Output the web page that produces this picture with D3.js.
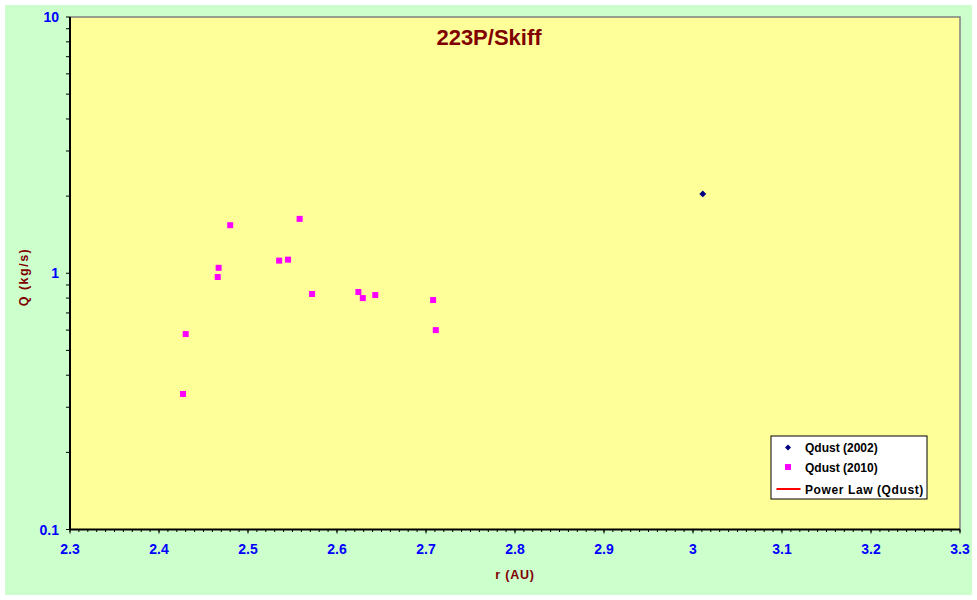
<!DOCTYPE html>
<html>
<head>
<meta charset="utf-8">
<script src="https://cdn.jsdelivr.net/npm/d3@7"></script>
<style>
  html, body { margin: 0; padding: 0; background: #ffffff; }
  svg { display: block; }
  text { font-family: "Liberation Sans", Arial, sans-serif; }
</style>
</head>
<body>
<svg id="chart" width="977" height="600"></svg>
<script>
// ---- Data ----
const title = "223P/Skiff";
const xTitle = "r (AU)";
const yTitle = "Q (kg/s)";

const r2002 = [3.011];
const q2002 = [2.04];

const r2010 = [2.480, 2.558, 2.535, 2.545, 2.467, 2.466, 2.572, 2.624, 2.629, 2.643, 2.708, 2.711, 2.430, 2.427];
const q2010 = [1.54, 1.63, 1.12, 1.13, 1.05, 0.967, 0.83, 0.845, 0.80, 0.822, 0.786, 0.60, 0.579, 0.338];

const xTicks = [2.3, 2.4, 2.5, 2.6, 2.7, 2.8, 2.9, 3.0, 3.1, 3.2, 3.3];
const yTicks = [0.1, 1, 10];
const legendLabels = ["Qdust (2002)", "Qdust (2010)", "Power Law (Qdust)"];

// ---- Layout ----
const svg = d3.select("#chart");
const L = 70, R = 960, T = 17, B = 529.5;

svg.append("rect").attr("x", 5).attr("y", 5).attr("width", 967).attr("height", 590)
  .attr("fill", "#CCFFCC");
svg.append("rect").attr("x", L).attr("y", T).attr("width", R - L).attr("height", B - T)
  .attr("fill", "#FFFF99");

const x = d3.scaleLinear().domain([2.3, 3.3]).range([L, R]);
const y = d3.scaleLog().domain([0.1, 10]).range([B, T]);

// border top/right
svg.append("path").attr("d", `M${L},${T}H${R}V${B}`).attr("fill", "none")
  .attr("stroke", "#808080").attr("stroke-width", 1.5);

// x axis
const minorX = d3.range(230, 331).map(v => v / 100);
const xAxisG = svg.append("g").attr("transform", `translate(0,${B})`);
xAxisG.selectAll("line.minor").data(minorX).join("line")
  .attr("x1", d => x(d)).attr("x2", d => x(d)).attr("y1", 0).attr("y2", 2.5)
  .attr("stroke", "#000").attr("stroke-width", 1);
xAxisG.selectAll("line.major").data(xTicks).join("line")
  .attr("x1", d => x(d)).attr("x2", d => x(d)).attr("y1", 0).attr("y2", 4)
  .attr("stroke", "#000").attr("stroke-width", 1);
xAxisG.append("line").attr("x1", L).attr("x2", R).attr("y1", 0).attr("y2", 0)
  .attr("stroke", "#000").attr("stroke-width", 2);
xAxisG.selectAll("text").data(xTicks).join("text")
  .attr("x", d => x(d)).attr("y", 24.5)
  .attr("text-anchor", "middle").attr("fill", "#0000FF")
  .attr("font-weight", "bold").attr("font-size", 14)
  .text(d => d3.format("~g")(d));

// y axis
const minorY = [];
[0.1, 1].forEach(dec => { for (let k = 2; k <= 9; k++) minorY.push(dec * k); });
const yAxisG = svg.append("g").attr("transform", `translate(${L},0)`);
yAxisG.selectAll("line.minor").data(minorY.concat(yTicks)).join("line")
  .attr("x1", -4).attr("x2", 0).attr("y1", d => y(d)).attr("y2", d => y(d))
  .attr("stroke", "#000").attr("stroke-width", 1);
yAxisG.append("line").attr("x1", 0).attr("x2", 0).attr("y1", T).attr("y2", B)
  .attr("stroke", "#000").attr("stroke-width", 2);
yAxisG.selectAll("text").data(yTicks).join("text")
  .attr("x", -11).attr("y", d => y(d) + 5)
  .attr("text-anchor", "end").attr("fill", "#0000FF")
  .attr("font-weight", "bold").attr("font-size", 14)
  .text(d => d3.format("~g")(d));

// titles
svg.append("text").attr("x", 489).attr("y", 45).attr("text-anchor", "middle")
  .attr("fill", "#800000").attr("font-weight", "bold").attr("font-size", 22)
  .text(title);
svg.append("text").attr("x", 515).attr("y", 579).attr("text-anchor", "middle")
  .attr("fill", "#800000").attr("font-weight", "bold").attr("font-size", 12.5)
  .attr("letter-spacing", 0.8).text(xTitle);
svg.append("text").attr("transform", "translate(27.5,277) rotate(-90)")
  .attr("text-anchor", "middle")
  .attr("fill", "#800000").attr("font-weight", "bold").attr("font-size", 12.5)
  .attr("letter-spacing", 1.5).text(yTitle);

// data points
const d2010 = r2010.map((r, i) => ({ r, q: q2010[i] }));
const d2002 = r2002.map((r, i) => ({ r, q: q2002[i] }));
svg.append("g").selectAll("rect").data(d2010).join("rect")
  .attr("x", d => x(d.r) - 3).attr("y", d => y(d.q) - 3)
  .attr("width", 6).attr("height", 6).attr("fill", "#FF00FF");
const diamond = d3.symbol().type(d3.symbolDiamond2).size(28);
svg.append("g").selectAll("path").data(d2002).join("path")
  .attr("transform", d => `translate(${x(d.r)},${y(d.q)}) rotate(45)`)
  .attr("d", d3.symbol().type(d3.symbolSquare).size(24)())
  .attr("fill", "#000080");

// legend
const lg = svg.append("g");
lg.append("rect").attr("x", 771).attr("y", 436).attr("width", 156).attr("height", 63)
  .attr("fill", "#ffffff").attr("stroke", "#000").attr("stroke-width", 1);
const rowsY = [447.5, 467, 489];
lg.append("path").attr("transform", `translate(788,${rowsY[0]}) rotate(45)`)
  .attr("d", d3.symbol().type(d3.symbolSquare).size(18)()).attr("fill", "#000080");
lg.append("rect").attr("x", 785).attr("y", rowsY[1] - 3).attr("width", 6).attr("height", 6)
  .attr("fill", "#FF00FF");
lg.append("line").attr("x1", 776.5).attr("x2", 800.5).attr("y1", rowsY[2]).attr("y2", rowsY[2])
  .attr("stroke", "#FF0000").attr("stroke-width", 2);
lg.selectAll("text").data(legendLabels).join("text")
  .attr("x", 805).attr("y", (d, i) => rowsY[i] + 4.5)
  .attr("fill", "#000").attr("font-weight", "bold").attr("font-size", 12)
  .attr("letter-spacing", (d, i) => i === 2 ? 0.6 : 0)
  .text(d => d);
</script>
</body>
</html>
